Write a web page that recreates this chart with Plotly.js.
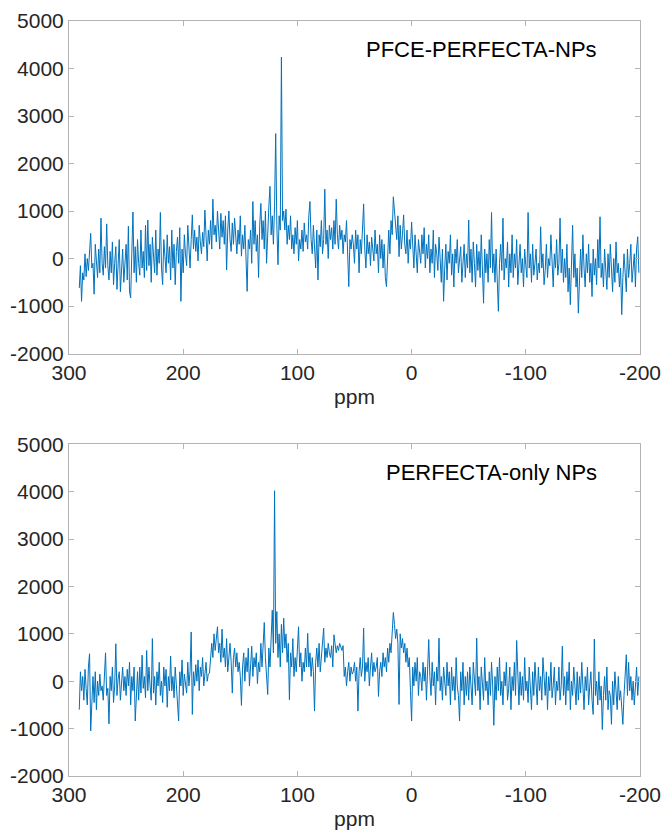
<!DOCTYPE html>
<html>
<head>
<meta charset="utf-8">
<script src="https://cdn.plot.ly/plotly-3.0.1.min.js"></script>
<style>html,body{margin:0;padding:0;background:#fff;}#chart{width:663px;height:835px;}</style>
</head>
<body>
<div id="chart"></div>
<script>
// chemical shift axis: first point, last point (ppm), one point per ppm
const ppmStart = 291;
const ppmEnd = -199;

// PFCE-PERFECTA-NPs spectrum (intensity per ppm, from 291 down to -199)
const pfceValues = [
  -620,-150,-900,-300,-450,100,-380,0,-250,120,530,-200,-100,-750,300,-50,-400,200,-300,850,
  -100,-350,250,-200,730,-150,-450,150,-300,350,-550,-100,250,-650,-200,400,-700,-300,200,-500,
  -100,300,-450,680,-700,-830,100,980,-300,250,-500,400,-100,-350,600,-200,150,-400,700,-250,
  810,-150,300,-500,450,100,-300,600,-350,200,-100,970,-200,-550,400,50,-300,500,-100,250,
  -450,600,-200,300,-550,150,450,-100,650,-900,200,-300,500,100,-150,700,300,-200,400,920,
  200,600,150,450,-50,700,350,100,550,250,1020,400,-50,600,300,800,200,1250,500,700,
  350,1000,600,200,950,450,800,300,900,-240,600,1000,400,150,750,300,850,450,100,600,
  300,900,50,500,200,700,-300,-690,400,200,600,-100,1200,300,800,150,500,-400,700,1160,
  400,800,200,1000,-100,600,1100,1520,500,900,300,1100,2630,700,-130,900,600,4240,800,1000,
  600,1040,300,700,400,900,200,500,100,650,300,800,-50,400,200,600,150,750,350,500,
  200,900,1200,400,100,700,300,-200,600,-450,500,250,800,100,400,1460,300,600,0,700,
  400,650,200,800,300,1250,500,200,700,400,600,100,500,350,800,-100,-590,400,200,500,
  300,-100,600,200,500,-300,400,100,700,1150,200,-200,500,100,350,-150,450,200,-50,600,
  100,300,-300,500,0,400,-200,300,-400,-590,200,600,100,800,500,1300,1000,600,400,900,
  40,700,200,500,920,300,100,600,-100,400,200,770,300,-200,500,100,-300,400,200,-100,
  500,100,650,-200,300,0,500,-300,200,-100,600,-400,300,100,-250,450,0,-500,200,-900,
  -200,300,-450,150,-100,500,-350,100,-600,200,-100,400,-300,0,250,-500,-150,300,-400,100,
  -200,810,-300,200,-500,350,-100,-600,300,-250,150,-400,500,-150,-940,200,-300,100,-500,400,
  -200,970,-300,100,-500,200,-400,-1110,-100,300,-250,850,-450,0,-200,350,-600,100,-300,500,
  -400,100,-200,400,-550,-100,300,-300,0,-600,200,-150,-400,970,-200,100,-500,300,-350,-100,
  200,-450,-100,-300,670,-200,100,-550,-250,300,-400,0,-150,500,-300,-600,100,-200,400,-350,
  -100,850,-300,200,-500,0,-400,300,-700,-200,-970,-300,700,-400,100,-600,-200,-1150,-300,200,
  -400,500,-200,-600,100,-300,300,-500,-100,-800,200,-350,0,-550,400,-200,880,-400,-100,-600,
  200,-300,-650,100,-400,300,-200,-700,0,-500,350,-300,-100,-600,-200,-1180,-400,100,-300,-700,
  200,-400,-100,300,-500,-200,100,-600,200,460,-300
];

// PERFECTA-only NPs spectrum (intensity per ppm, from 291 down to -199)
const perfectaValues = [
  -600,200,-200,100,-400,250,-150,-500,300,580,-1050,-300,100,-450,200,-600,0,-300,150,-200,
  -100,-400,200,600,-300,-150,-900,100,-200,300,-450,-100,790,-300,50,200,-400,0,300,-200,
  100,-300,250,-100,400,-500,100,-200,300,-840,-100,200,-400,300,-250,550,-150,100,-350,650,
  -200,300,-100,-400,900,-250,100,-500,200,-100,400,-300,0,-450,300,-100,250,-550,100,-200,
  530,-200,100,-350,300,-150,-400,-840,200,-100,450,-300,150,0,-250,400,-100,200,1040,-700,
  200,-100,350,0,450,-200,300,100,500,-100,250,400,0,150,175,600,800,500,1000,650,
  900,1150,600,800,400,1100,500,700,300,900,200,600,800,400,-250,500,700,300,600,200,
  400,100,-510,300,600,0,500,200,700,-100,400,740,100,500,300,600,-50,400,200,800,
  300,900,1240,500,200,-280,700,300,900,1500,600,4020,800,1470,500,1000,300,1200,600,1330,
  700,1000,400,800,-390,600,300,900,100,500,200,700,1150,300,600,0,400,200,700,300,
  1010,300,600,100,500,200,-630,400,700,300,800,200,500,900,1120,400,700,500,800,600,
  500,750,300,980,700,600,750,650,800,700,650,750,100,300,-100,200,400,0,300,150,
  200,400,0,300,-630,200,500,100,300,1120,0,400,200,500,-100,300,600,100,400,200,
  300,500,-320,200,400,100,600,300,500,200,700,400,800,600,1000,1450,1200,900,1100,800,
  -490,1000,700,900,600,800,400,700,300,500,-200,-840,300,-100,400,0,500,-300,200,100,
  -200,400,0,300,-400,200,880,100,-300,400,-100,200,-500,300,0,910,-200,100,-400,300,
  0,-300,400,-100,200,-500,300,-200,100,-400,500,-100,-300,-840,200,-200,400,-500,100,-300,
  200,-400,300,-100,-500,400,0,-300,910,-200,100,-600,300,-100,-400,500,-200,0,-500,200,
  -300,400,-100,-930,100,-400,300,-200,500,-300,0,-500,200,-100,400,-400,-150,300,-600,100,
  -200,400,-300,860,-100,-500,200,-300,100,-400,500,-200,0,-450,300,-100,-600,200,-300,400,
  -100,-500,300,-200,100,-400,500,0,-300,200,-600,100,-200,400,-350,-100,300,-500,0,-200,
  300,-400,-100,740,-300,100,-500,200,-200,400,-600,0,-300,300,-150,-500,200,-400,100,-250,
  400,-300,-600,100,-200,300,-500,-100,200,-400,-700,890,-300,0,-500,200,-400,-100,-1020,-300,
  100,-400,300,-600,-200,-300,-910,0,-500,200,-300,-600,100,-400,-200,-700,-910,-300,200,560,
  -300,400,-200,100,-400,0,-500,-100,300,-300,100
];

const xTickVals = [300, 200, 100, 0, -100, -200];
const xTickText = ['300', '200', '100', '0', '-100', '-200'];
const yTickVals = [-2000, -1000, 0, 1000, 2000, 3000, 4000, 5000];
const yTickText = ['-2000', '-1000', '0', '1000', '2000', '3000', '4000', '5000'];
const labels = ['PFCE-PERFECTA-NPs', 'PERFECTA-only NPs'];
const xTitle = 'ppm';

const ppm = [];
for (let v = ppmStart; v >= ppmEnd; v--) ppm.push(v);

const lineColor = '#0072BD';
const axisColor = '#b4b4b4';
const textColor = '#262626';
const fontFam = 'Liberation Sans, Arial, Helvetica, sans-serif';
const fs = 21;

const traces = [
  {x: ppm, y: pfceValues, type: 'scatter', mode: 'lines', xaxis: 'x', yaxis: 'y',
   line: {color: lineColor, width: 1}, hoverinfo: 'x+y'},
  {x: ppm, y: perfectaValues, type: 'scatter', mode: 'lines', xaxis: 'x2', yaxis: 'y2',
   line: {color: lineColor, width: 1}, hoverinfo: 'x+y'}
];

function xax(anchor) {
  return {
    anchor: anchor, domain: [0, 1], range: [300, -200], autorange: false,
    tickmode: 'array', tickvals: xTickVals, ticktext: xTickText,
    ticks: 'inside', ticklen: 5, tickcolor: axisColor, tickwidth: 1,
    showline: true, linecolor: axisColor, linewidth: 1, mirror: 'ticks',
    showgrid: false, zeroline: false,
    tickfont: {family: fontFam, size: fs, color: textColor},
    title: {text: xTitle, font: {family: fontFam, size: fs, color: textColor}, standoff: 6}
  };
}
function yax(anchor, dom) {
  return {
    anchor: anchor, domain: dom, range: [-2000, 5000], autorange: false,
    tickmode: 'array', tickvals: yTickVals, ticktext: yTickText,
    ticks: 'inside', ticklen: 5, tickcolor: axisColor, tickwidth: 1,
    showline: true, linecolor: axisColor, linewidth: 1, mirror: 'ticks',
    showgrid: false, zeroline: false,
    tickfont: {family: fontFam, size: fs, color: textColor}
  };
}

const layout = {
  width: 663, height: 835,
  margin: {l: 69, r: 23, t: 21, b: 59},
  paper_bgcolor: '#ffffff', plot_bgcolor: '#ffffff',
  showlegend: false,
  xaxis: xax('y'),
  yaxis: yax('x', [0.5595, 1]),
  xaxis2: xax('y2'),
  yaxis2: yax('x2', [0, 0.4393]),
  annotations: [
    {text: labels[0], xref: 'x', yref: 'y', x: -61, y: 4400, showarrow: false,
     font: {family: fontFam, size: 22, color: '#000000'}},
    {text: labels[1], xref: 'x2', yref: 'y2', x: -70, y: 4400, showarrow: false,
     font: {family: fontFam, size: 22, color: '#000000'}}
  ]
};

Plotly.newPlot('chart', traces, layout, {displayModeBar: false, staticPlot: true});
</script>
</body>
</html>
